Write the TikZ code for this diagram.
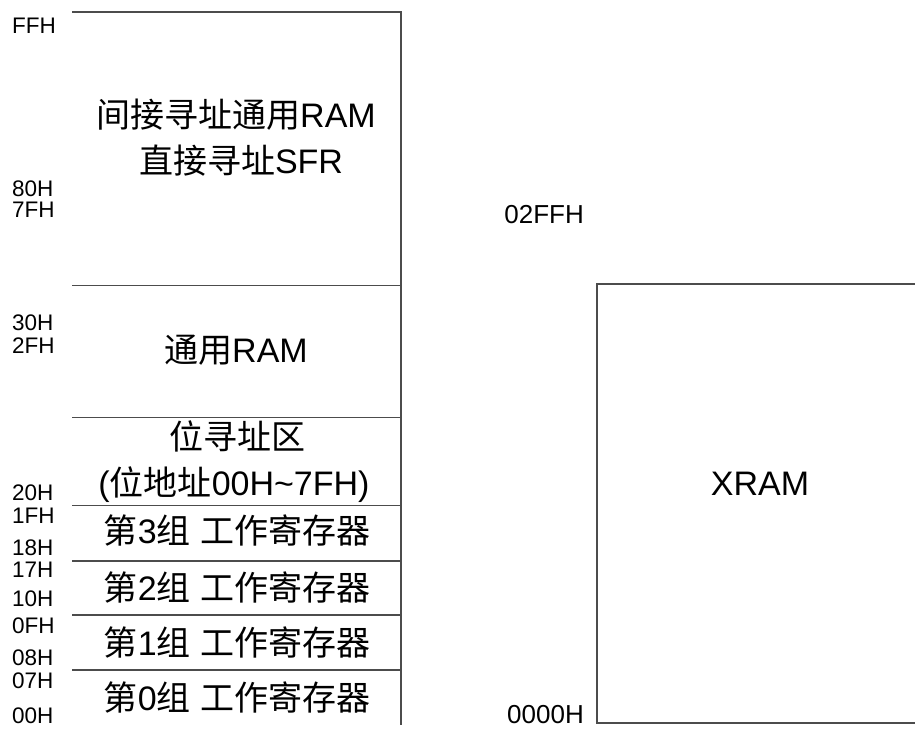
\documentclass[tikz,border=0pt]{standalone}
\usepackage{fontspec}
\setmainfont{Liberation Sans}
\newfontfamily\cjk{Noto Sans CJK SC}
\begin{document}
\begin{tikzpicture}[x=1pt,y=-1pt,
  frame/.style={draw=black!70,line width=1.3pt},
  maintext/.style={font=\fontsize{34}{38}\selectfont,inner sep=0pt,anchor=base},
  addr/.style={font=\fontsize{22.5}{25}\selectfont,inner sep=0pt,anchor=base west,text height=16pt,text depth=0pt},
  xaddr/.style={font=\fontsize{26}{28}\selectfont,inner sep=0pt,anchor=base east}]
\useasboundingbox (0,0) rectangle (915,728);
% left memory block
\coordinate (tl) at (72,12);
\coordinate (tr) at (401,12);
\coordinate (br) at (401,725);
\draw[frame] (tl) -- (tr) -- (br);
\foreach \yy/\nm in {285.7/d1,417.7/d2,505.5/d3,561/d4,615/d5,670/d6}{
  \coordinate (\nm l) at (72,\yy);
  \coordinate (\nm r) at (401,\yy);
  \draw[frame] (\nm l) -- (\nm r);
}
% right block
\coordinate (xr1) at (925,284);
\coordinate (xl1) at (597,284);
\coordinate (xl2) at (597,723);
\coordinate (xr2) at (925,723);
\draw[frame] (xr1) -- (xl1) -- (xl2) -- (xr2);
% texts in left block
\node[maintext] (t1) at (236,127) {{\cjk 间接寻址通用}RAM};
\node[maintext] (t2) at (241,173) {{\cjk 直接寻址}SFR};
\node[maintext] (t3) at (236,362) {{\cjk 通用}RAM};
\node[maintext] (t4) at (237,449) {{\cjk 位寻址区}};
\node[maintext] (t5) at (234,495) {({\cjk 位地址}00H\textasciitilde 7FH)};
\node[maintext] (t6) at (237,543) {{\cjk 第}3{\cjk 组} {\cjk 工作寄存器}};
\node[maintext] (t7) at (237,600) {{\cjk 第}2{\cjk 组} {\cjk 工作寄存器}};
\node[maintext] (t8) at (237,655) {{\cjk 第}1{\cjk 组} {\cjk 工作寄存器}};
\node[maintext] (t9) at (237,710) {{\cjk 第}0{\cjk 组} {\cjk 工作寄存器}};
% address labels
\node[addr] (aFF) at (12,33) {FFH};
\node[addr] (a80) at (12,196.5) {80H};
\node[addr] (a7F) at (12,217.5) {7FH};
\node[addr] (a30) at (12,330.5) {30H};
\node[addr] (a2F) at (12,353) {2FH};
\node[addr] (a20) at (12,500.5) {20H};
\node[addr] (a1F) at (12,523) {1FH};
\node[addr] (a18) at (12,555.5) {18H};
\node[addr] (a17) at (12,577) {17H};
\node[addr] (a10) at (12,606) {10H};
\node[addr] (a0F) at (12,633) {0FH};
\node[addr] (a08) at (12,665.5) {08H};
\node[addr] (a07) at (12,688) {07H};
\node[addr] (a00) at (12,723) {00H};
% right labels
\node[xaddr] (x2FF) at (584,223) {02FFH};
\node[xaddr] (x000) at (584,723) {0000H};
\node[maintext] (xram) at (760,495) {XRAM};
\end{tikzpicture}
\end{document}
